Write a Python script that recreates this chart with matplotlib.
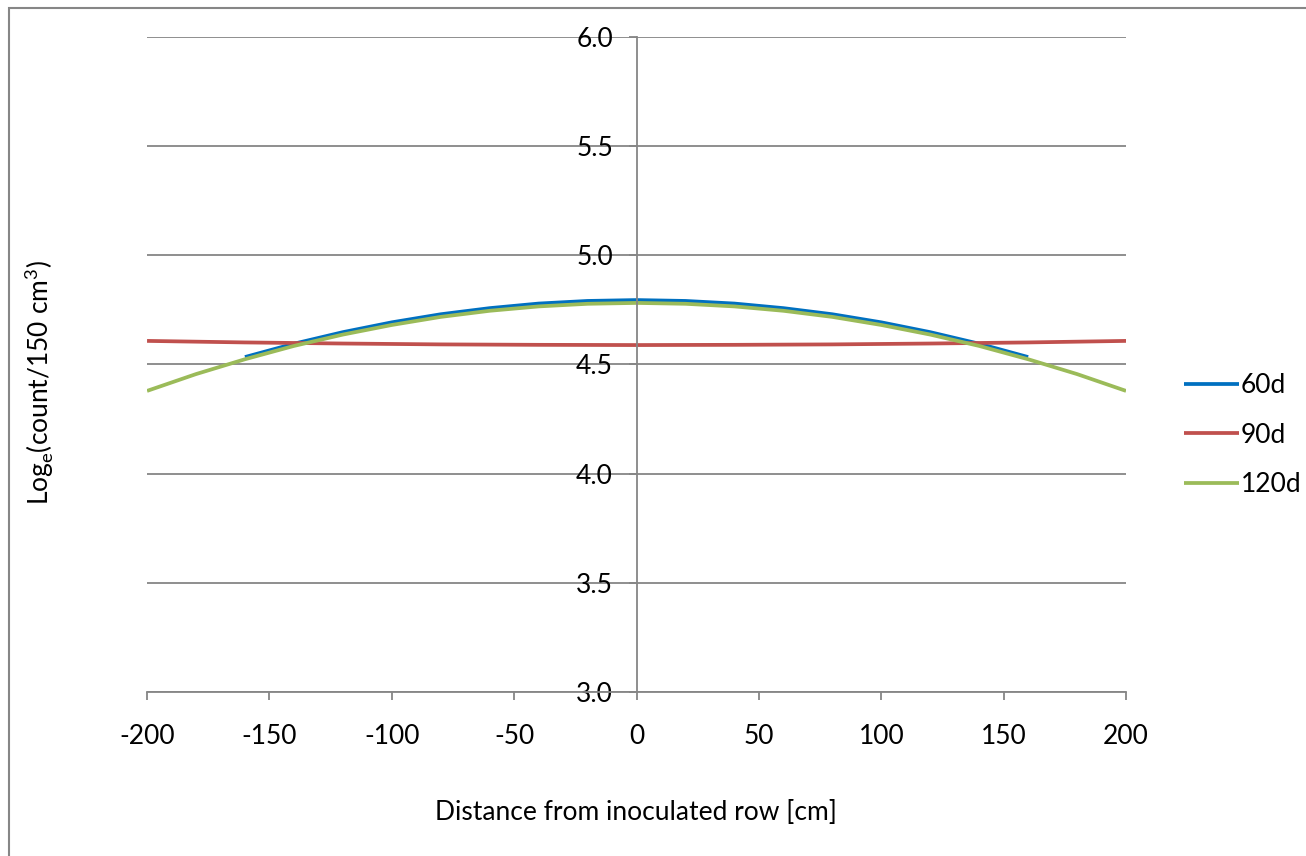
import numpy as np
import matplotlib.pyplot as plt
from matplotlib.patches import Rectangle

plt.rcParams['font.family'] = ['Lato', 'DejaVu Sans']
plt.rcParams['mathtext.fontset'] = 'custom'
plt.rcParams['mathtext.rm'] = 'Lato'
plt.rcParams['axes.unicode_minus'] = False

# distance from inoculated row [cm]
x_60 = [-160, -140, -120, -100, -80, -60, -40, -20, 0, 20, 40, 60, 80, 100, 120, 140, 160]
y_60 = [4.534, 4.595, 4.648, 4.693, 4.730, 4.758, 4.779, 4.791, 4.795,
        4.791, 4.779, 4.758, 4.730, 4.693, 4.648, 4.595, 4.534]

x_90 = [-200, -160, -120, -80, -40, 0, 40, 80, 120, 160, 200]
y_90 = [4.608, 4.601, 4.596, 4.592, 4.590, 4.589, 4.590, 4.592, 4.596, 4.601, 4.608]

x_120 = [-200, -180, -160, -140, -120, -100, -80, -60, -40, -20, 0,
         20, 40, 60, 80, 100, 120, 140, 160, 180, 200]
y_120 = [4.379, 4.456, 4.524, 4.585, 4.637, 4.681, 4.718, 4.746, 4.766, 4.778, 4.782,
         4.778, 4.766, 4.746, 4.718, 4.681, 4.637, 4.585, 4.524, 4.456, 4.379]

xticks = [-200, -150, -100, -50, 0, 50, 100, 150, 200]
yticks = [3.0, 3.5, 4.0, 4.5, 5.0, 5.5, 6.0]

gray = '#868686'
fs = 19

fig = plt.figure(figsize=(13.06, 8.56), dpi=100)
ax = fig.add_axes([0.1126, 0.1916, 0.7496, 0.7652])

ax.plot(x_60, y_60, color='#0070C0', lw=2.7, label='60d', solid_capstyle='butt')
ax.plot(x_90, y_90, color='#C0504D', lw=2.7, label='90d', solid_capstyle='butt')
ax.plot(x_120, y_120, color='#9BBB59', lw=2.7, label='120d', solid_capstyle='butt')

ax.set_xlim(-200, 200)
ax.set_ylim(3.0, 6.0)
ax.set_xticks(xticks)
ax.set_yticks(yticks)
ax.set_yticklabels(['%.1f' % v for v in yticks])

for s in ['top', 'right']:
    ax.spines[s].set_visible(False)
ax.spines['left'].set_position(('data', 0))
ax.spines['left'].set_color(gray)
ax.spines['bottom'].set_color(gray)
ax.spines['left'].set_linewidth(1.3)
ax.spines['bottom'].set_linewidth(1.3)
ax.yaxis.grid(True, color=gray, lw=1.3)
ax.set_axisbelow(True)

ax.tick_params(axis='x', direction='out', length=6, width=1.3, color=gray,
               labelsize=fs, pad=17)
ax.tick_params(axis='y', direction='out', length=6, width=1.3, color=gray,
               labelsize=fs, pad=11)

leg = ax.legend(loc='center left', bbox_to_anchor=(1.035, 0.392), frameon=False,
                fontsize=fs, handlelength=2.1, handletextpad=0.05, labelspacing=0.93)

fig.text(0.487, 0.051, 'Distance from inoculated row [cm]', ha='center', va='center',
         fontsize=fs)
fig.text(0.03, 0.553, r'Log$_{\mathregular{e}}$(count/150 cm$^{\mathregular{3}}$)',
         ha='center', va='center', rotation=90, fontsize=fs)

# outer chart border
fig.patches.append(Rectangle((9 / 1306, -0.1), 1.2, 1.1 - 8 / 856, transform=fig.transFigure,
                             fill=False, edgecolor=gray, lw=1.5))

fig.savefig('out.png', dpi=100)
